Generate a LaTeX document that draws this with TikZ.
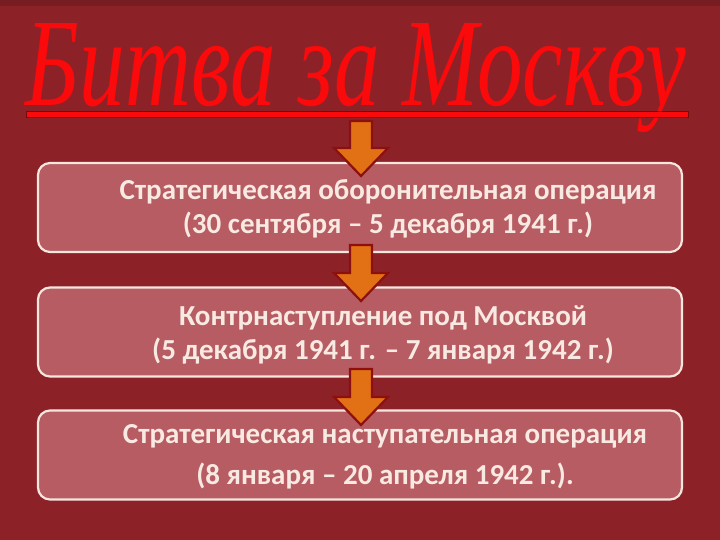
\documentclass[tikz,border=0pt]{standalone}
\usepackage{fontspec}
\setmainfont{Carlito}
\newfontfamily\titlefont{Liberation Serif}
\usetikzlibrary{calc}
\definecolor{bgred}{RGB}{140,34,40}
\definecolor{boxfill}{RGB}{182,92,98}
\definecolor{boxline}{RGB}{245,230,222}
\definecolor{txtcol}{RGB}{248,234,226}
\definecolor{titlered}{RGB}{250,10,10}
\definecolor{titledark}{RGB}{120,10,10}
\definecolor{arrowfill}{RGB}{226,112,20}
\definecolor{arrowline}{RGB}{140,16,16}
\tikzset{
  stagebox/.style={draw=boxline, line width=2.2pt, fill=boxfill, rounded corners=12pt,
    minimum width=644pt, minimum height=89pt, inner sep=0pt},
  stagetext/.style={text=txtcol, font=\fontsize{29}{34}\selectfont\bfseries, align=center},
  blockarrow/.style={fill=arrowfill, draw=arrowline, line width=2.2pt, line join=miter},
}
\begin{document}
\begin{tikzpicture}[x=1pt,y=-1pt]
\useasboundingbox (0,0) rectangle (720,540);
\fill[bgred] (0,0) rectangle (720,540);
\fill[bgred!85!black] (0,0) rectangle (720,6);
% title
\node[text=titlered, font=\titlefont\itshape\fontsize{100}{100}\selectfont, inner sep=0pt, anchor=base] (title) at (356,106) {\resizebox{660pt}{82pt}{Битва за Москву}};
\fill[titlered, draw=titledark, line width=1pt] (26,112) rectangle (688,118);
% boxes
\node[stagebox] (b1) at (360,207.5) {};
\node[stagebox] (b2) at (360,332) {};
\node[stagebox] (b3) at (360,455) {};
\node[stagetext] at (388,209) {Стратегическая оборонительная операция\\(30 сентября – 5 декабря 1941 г.)};
\node[stagetext] at (383,335) {Контрнаступление под Москвой\\(5 декабря 1941 г. – 7 января 1942 г.)};
\node[stagetext, font=\fontsize{29}{41}\selectfont\bfseries] at (385,457) {Стратегическая наступательная операция\\(8 января – 20 апреля 1942 г.).};
% arrows
\foreach \top/\tip in {121/176, 245/301, 369/425}{
  \draw[blockarrow] (350,\top) -- (372,\top) -- (372,\tip-28) -- (388,\tip-28) -- (361,\tip)
    -- (334,\tip-28) -- (350,\tip-28) -- cycle;
}
\end{tikzpicture}
\end{document}
